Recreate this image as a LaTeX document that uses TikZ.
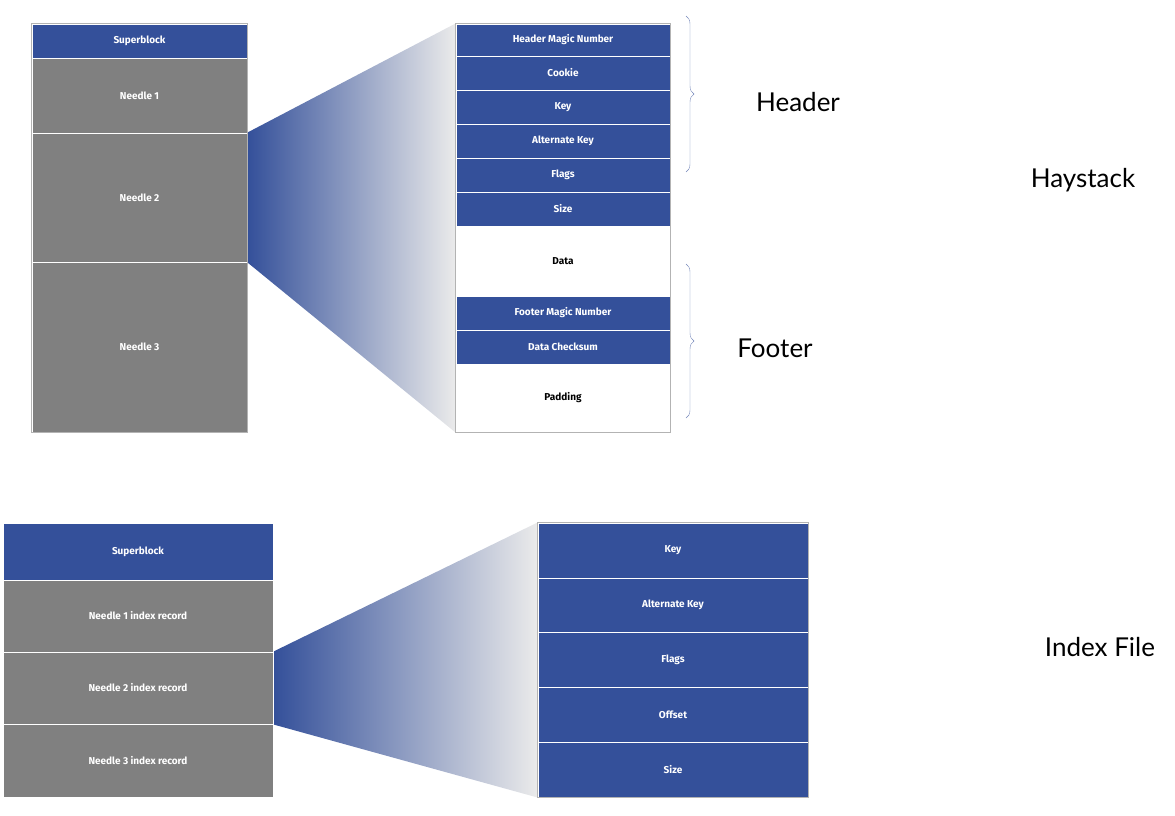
\documentclass[tikz,border=0pt]{standalone}
\usepackage{fontspec}
\setmainfont{Fira Sans}
\newfontfamily\labfont{Lato}
\usetikzlibrary{positioning, backgrounds, decorations.pathreplacing}
\definecolor{hsblue}{HTML}{34509A}
\definecolor{hsgray}{HTML}{808080}
\tikzset{cell/.style={draw=white, line width=1pt, inner sep=0pt, font=\bfseries, text=white},
         bluecell/.style={cell, fill=hsblue},
         graycell/.style={cell, fill=hsgray},
         whitecell/.style={cell, fill=white, text=black},
         brc/.style={draw=hsblue!70, decorate, decoration={brace, amplitude=8pt}},
         side/.style={font=\labfont\fontsize{26}{30}\selectfont},
        }
\begin{document}
\begin{tikzpicture}[x=1pt, y=-1pt]
    \useasboundingbox (0,0) rectangle (1175,815);
    % haystack file
    \begin{scope}[every node/.append style={font=\bfseries\fontsize{15}{18}\selectfont}]
    \foreach \nm/\yt/\yb/\txt/\st in {sb/24/58/Superblock/bluecell, na/58/133/Needle 1/graycell,
                                     nb/133/262/Needle 2/graycell, nc/262/432/Needle 3/graycell}
        \node[\st, minimum width=215pt, minimum height=\yb pt-\yt pt](\nm)at(139.5,{(\yt+\yb)/2}){\txt};
    \foreach \nm/\yt/\yb/\txt/\st in {hm/24/56/Header Magic Number/bluecell, ck/56/90/Cookie/bluecell,
                                     ky/90/124/Key/bluecell, ak/124/158/Alternate Key/bluecell,
                                     fl/158/192/Flags/bluecell, sz/192/226/Size/bluecell,
                                     dt/226/296/Data/whitecell, fm/296/330/Footer Magic Number/bluecell,
                                     cs/330/364/Data Checksum/bluecell, pd/364/432/Padding/whitecell}
        \node[\st, minimum width=214pt, minimum height=\yb pt-\yt pt](\nm)at(563,{(\yt+\yb)/2}){\txt};
    \end{scope}
    \draw[hsgray!60](hm.north west) rectangle (pd.south east);
    \draw[hsgray!60](sb.north west) rectangle (nc.south east);
    \begin{scope}[on background layer]
        \shade[left color=hsblue, right color=white!92!black]
            (nb.north east) -- (hm.north west) -- (pd.south west) -- (nb.south east) -- cycle;
    \end{scope}

    \draw[brc](686,16)--(686,172);
    \draw[brc](686,264)--(686,418);
    \node[side](hdr)at(798,102){Header};
    \node[side](ftr)at(775,348){Footer};
    \node[side](hay)at(1083,180){Haystack};

    % index file
    \begin{scope}[every node/.append style={font=\bfseries\fontsize{20}{24}\selectfont}]
    \foreach \nm/\yt/\yb/\txt/\st in {isb/523/580/Superblock/bluecell, ia/580/652/Needle 1 index record/graycell,
                                     ib/652/724/Needle 2 index record/graycell, ic/724/797/Needle 3 index record/graycell}
        \node[\st, minimum width=270pt, minimum height=\yb pt-\yt pt](\nm)at(138,{(\yt+\yb)/2}){\txt};
    \foreach \nm/\yt/\yb/\txt in {iky/523/578/Key, iak/578/632/Alternate Key, ifl/632/687/Flags,
                                 iof/687/742/Offset, isz/742/797/Size}
        \node[bluecell, minimum width=270pt, minimum height=\yb pt-\yt pt](\nm)at(673,{(\yt+\yb)/2}){\txt};
    \end{scope}
    \draw[hsgray!60](iky.north west) rectangle (isz.south east);
    \begin{scope}[on background layer]
        \shade[left color=hsblue, right color=white!92!black]
            (ib.north east) -- (iky.north west) -- (isz.south west) -- (ib.south east) -- cycle;
    \end{scope}
    \node[side](idx)at(1100,647){Index File};
\end{tikzpicture}
\end{document}
